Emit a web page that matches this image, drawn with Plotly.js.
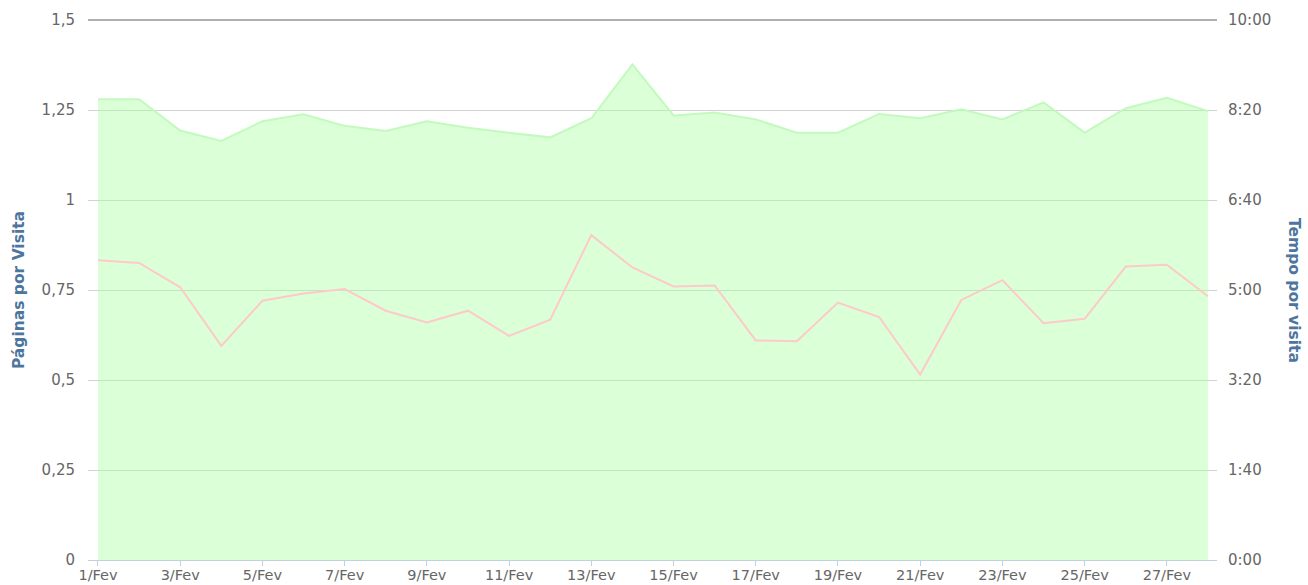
<!DOCTYPE html>
<html>
<head>
<meta charset="utf-8">
<script src="https://cdn.plot.ly/plotly-3.0.1.min.js"></script>
<style>html,body{margin:0;padding:0;background:#fff;}#chart{width:1308px;height:585px;}</style>
</head>
<body>
<div id="chart"></div>
<script>
var days = ['1/Fev','2/Fev','3/Fev','4/Fev','5/Fev','6/Fev','7/Fev','8/Fev','9/Fev','10/Fev','11/Fev','12/Fev','13/Fev','14/Fev','15/Fev','16/Fev','17/Fev','18/Fev','19/Fev','20/Fev','21/Fev','22/Fev','23/Fev','24/Fev','25/Fev','26/Fev','27/Fev','28/Fev'];
var paginasPorVisita = [1.280,1.280,1.193,1.164,1.219,1.238,1.206,1.192,1.219,1.201,1.187,1.174,1.227,1.377,1.235,1.243,1.224,1.187,1.187,1.239,1.227,1.252,1.224,1.271,1.187,1.255,1.284,1.247];
var tempoPorVisita = [333,330,303,238,288,296,301,277,264,277,249,267,361,325,304,305,244,243,286,270,206,289,311,263,268,326,328,293];
var leftTicks = [0,0.25,0.5,0.75,1,1.25,1.5];
var rightTicksSec = [0,100,200,300,400,500,600];
var rightTickText = ['0:00','1:40','3:20','5:00','6:40','8:20','10:00'];
var xTickVals = days.filter(function(d,i){return i%2===0;});

var font = 'DejaVu Sans, Verdana, Arial, sans-serif';
var traces = [
  {x: days, y: paginasPorVisita, type:'scatter', mode:'lines', name:'Páginas por Visita',
   fill:'tozeroy', fillcolor:'rgba(170,255,160,0.42)', line:{color:'rgba(190,250,185,0.9)', width:2}, yaxis:'y'},
  {x: days, y: tempoPorVisita, type:'scatter', mode:'lines', name:'Tempo por visita',
   line:{color:'#ffc9c9', width:2}, yaxis:'y2'}
];
var layout = {
  width:1308, height:585,
  margin:{l:88, r:91, t:20, b:25},
  paper_bgcolor:'#fff', plot_bgcolor:'#fff',
  separators:',.',
  showlegend:false,
  font:{family:font, size:15, color:'#666'},
  xaxis:{type:'category', range:[-0.243, 27.22], tickvals:xTickVals, ticktext:xTickVals,
    showgrid:false, zeroline:false, showline:true, linecolor:'#c0d0e0', linewidth:1,
    ticks:'outside', ticklen:5, tickcolor:'#c0d0e0', tickfont:{size:14.5, color:'#666'}, ticklabelstandoff:-3},
  yaxis:{range:[0,1.5], tickvals:leftTicks, showgrid:true, gridcolor:'#d2d2d2', gridwidth:1, zeroline:false,
    showline:false, ticks:'', tickfont:{size:15, color:'#666'}, ticklabelstandoff:12,
    title:{text:'<b>Páginas por Visita</b>', font:{size:15.5, color:'#4d759e'}, standoff:13}},
  yaxis2:{range:[0,600], overlaying:'y', side:'right', tickvals:rightTicksSec, ticktext:rightTickText,
    showgrid:false, zeroline:false, showline:false, ticks:'', tickfont:{size:15, color:'#666'}, ticklabelstandoff:10},
  shapes:[{type:'line', xref:'paper', yref:'paper', x0:0, x1:1, y0:1, y1:1, line:{color:'#b0b0b0', width:2}, layer:'above'}],
  annotations:[{xref:'paper', yref:'paper', x:1, xshift:88, y:0.5, text:'<b>Tempo por visita</b>', textangle:90,
    showarrow:false, font:{size:15.5, color:'#4d759e', family:font}}]
};
Plotly.newPlot('chart', traces, layout, {displayModeBar:false, staticPlot:true});
</script>
</body>
</html>
